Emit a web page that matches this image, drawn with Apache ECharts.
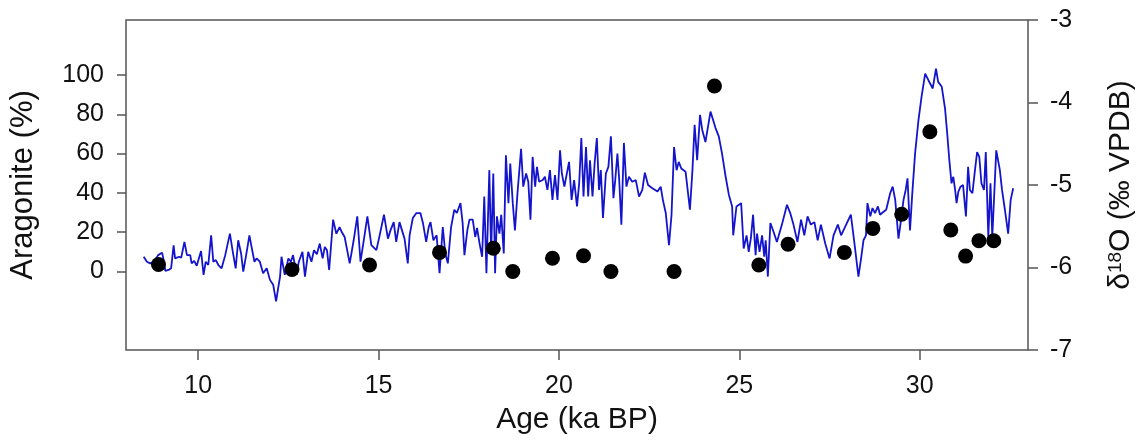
<!DOCTYPE html>
<html>
<head>
<meta charset="utf-8">
<script src="https://cdn.jsdelivr.net/npm/echarts@6/dist/echarts.min.js"></script>
<style>
html,body{margin:0;padding:0;background:#fff;}
#chart{width:1144px;height:446px;}
</style>
</head>
<body>
<div id="chart"></div>
<script>
// Age (ka BP) for the δ18O record
const lineAge = [
8.49,8.58,8.67,8.78,8.89,9.00,9.03,9.09,9.18,9.25,
9.32,9.36,9.47,9.53,9.62,9.69,9.78,9.82,9.89,9.96,
10.08,10.15,10.21,10.28,10.36,10.42,10.49,10.56,10.65,10.75,
10.88,10.96,11.04,11.11,11.19,11.25,11.33,11.42,11.48,11.56,
11.62,11.71,11.80,11.90,11.99,12.08,12.16,12.21,12.27,12.31,
12.40,12.50,12.57,12.63,12.73,12.79,12.89,12.96,13.05,13.14,
13.21,13.29,13.37,13.45,13.51,13.57,13.63,13.74,13.83,13.92,
13.98,14.06,14.20,14.31,14.41,14.50,14.59,14.69,14.80,14.94,
15.03,15.15,15.26,15.33,15.42,15.49,15.58,15.72,15.81,15.86,
15.95,16.05,16.16,16.23,16.32,16.39,16.44,16.52,16.61,16.69,
16.78,16.85,16.92,17.01,17.10,17.17,17.27,17.33,17.38,17.46,
17.52,17.61,17.68,17.73,17.80,17.87,17.93,17.99,18.07,18.12,
18.18,18.23,18.28,18.35,18.40,18.47,18.53,18.60,18.65,18.72,
18.78,18.85,18.95,19.01,19.09,19.15,19.21,19.27,19.34,19.39,
19.45,19.55,19.61,19.68,19.75,19.82,19.89,19.96,20.03,20.08,
20.15,20.21,20.28,20.35,20.42,20.50,20.56,20.62,20.68,20.75,
20.81,20.86,20.93,20.99,21.05,21.11,21.16,21.22,21.30,21.37,
21.44,21.51,21.56,21.62,21.67,21.73,21.80,21.87,21.94,22.03,
22.13,22.22,22.31,22.38,22.47,22.59,22.73,22.82,22.88,22.96,
23.05,23.12,23.19,23.26,23.32,23.39,23.51,23.63,23.70,23.76,
23.83,23.91,23.97,24.06,24.20,24.34,24.43,24.52,24.62,24.71,
24.80,24.83,24.92,25.05,25.12,25.20,25.26,25.32,25.38,25.45,
25.49,25.56,25.63,25.69,25.73,25.79,25.86,25.95,26.04,26.18,
26.32,26.41,26.50,26.61,26.71,26.80,26.89,26.98,27.08,27.17,
27.26,27.38,27.50,27.61,27.73,27.82,27.96,28.09,28.18,28.30,
28.38,28.44,28.51,28.55,28.63,28.69,28.76,28.84,28.90,28.98,
29.07,29.18,29.25,29.32,29.41,29.47,29.55,29.61,29.66,29.73,
29.79,29.87,29.96,30.05,30.15,30.24,30.36,30.45,30.51,30.61,
30.70,30.76,30.82,30.88,30.93,30.98,31.02,31.07,31.13,31.20,
31.28,31.34,31.39,31.46,31.53,31.59,31.65,31.71,31.78,31.83,
31.90,31.96,32.01,32.12,32.22,32.28,32.36,32.45,32.52,32.59
];
// δ18O (‰ VPDB)
const lineD18O = [
-5.87,-5.93,-5.95,-5.93,-5.85,-5.82,-5.88,-6.04,-6.03,-6.01,
-5.73,-5.89,-5.87,-5.88,-5.69,-5.85,-5.85,-5.95,-5.92,-5.98,
-5.80,-6.09,-5.93,-5.97,-5.61,-5.93,-5.91,-5.97,-6.01,-5.85,
-5.59,-5.81,-6.01,-5.67,-5.83,-6.05,-5.85,-5.61,-5.75,-5.93,
-5.89,-5.93,-6.07,-6.01,-6.15,-6.21,-6.41,-6.27,-6.11,-5.87,
-6.09,-5.89,-5.93,-5.85,-6.09,-5.93,-5.81,-6.11,-5.81,-5.93,
-5.79,-5.84,-5.71,-5.89,-5.75,-5.79,-6.03,-5.42,-5.59,-5.51,
-5.57,-5.63,-5.95,-5.67,-5.38,-5.93,-5.67,-5.38,-5.73,-5.79,
-5.61,-5.36,-5.65,-5.55,-5.45,-5.69,-5.45,-5.65,-5.95,-5.61,
-5.40,-5.34,-5.34,-5.46,-5.69,-5.51,-5.45,-5.67,-5.61,-6.07,
-5.51,-5.83,-5.95,-5.51,-5.30,-5.34,-5.22,-5.46,-5.85,-5.55,
-5.42,-5.42,-5.63,-5.52,-5.71,-5.87,-5.14,-6.07,-4.82,-5.83,
-4.86,-6.07,-5.38,-5.59,-5.36,-5.83,-4.64,-5.22,-4.74,-5.22,
-5.55,-5.10,-4.56,-5.02,-4.86,-4.96,-5.42,-4.66,-5.02,-4.78,
-4.96,-4.94,-4.90,-5.06,-4.82,-5.18,-4.88,-5.18,-4.58,-4.86,
-5.02,-4.88,-4.72,-5.18,-4.94,-5.26,-4.98,-4.43,-5.14,-4.54,
-5.14,-4.70,-5.14,-4.73,-4.43,-5.06,-4.82,-5.40,-4.86,-4.78,
-4.41,-5.16,-4.94,-4.62,-4.94,-5.48,-4.49,-5.02,-4.90,-4.96,
-4.94,-5.14,-5.06,-4.85,-5.00,-5.04,-5.08,-5.02,-5.18,-5.34,
-5.73,-5.36,-4.54,-4.82,-4.72,-4.80,-4.84,-5.30,-4.82,-4.27,
-4.70,-4.15,-4.33,-4.48,-4.11,-4.31,-4.41,-4.62,-4.90,-5.12,
-5.26,-5.61,-5.26,-5.22,-5.77,-5.61,-5.81,-5.64,-5.36,-5.85,
-5.59,-5.81,-5.61,-5.87,-5.67,-6.11,-5.46,-5.57,-5.69,-5.48,
-5.24,-5.34,-5.48,-5.69,-5.42,-5.61,-5.38,-5.48,-5.45,-5.67,
-5.48,-5.71,-5.89,-5.61,-5.48,-5.61,-5.48,-5.36,-5.67,-6.11,
-5.87,-5.67,-5.61,-5.22,-5.38,-5.28,-5.34,-5.26,-5.36,-5.33,
-5.30,-5.10,-5.02,-5.18,-5.65,-5.46,-5.18,-5.06,-4.92,-5.55,
-5.12,-4.62,-4.23,-3.93,-3.65,-3.73,-3.83,-3.59,-3.75,-3.81,
-4.07,-4.37,-4.70,-4.98,-4.90,-5.06,-5.22,-5.08,-5.02,-5.00,
-5.38,-4.78,-5.06,-5.10,-4.82,-4.60,-4.66,-4.98,-5.06,-4.60,
-5.63,-4.98,-5.63,-4.58,-4.82,-5.06,-5.30,-5.59,-5.18,-5.04
];
// Aragonite (%) samples
const dotAge = [8.9,12.6,14.75,16.69,18.18,18.72,19.82,20.68,21.44,23.19,24.31,25.54,26.35,27.91,28.70,29.50,30.28,30.86,31.27,31.64,32.05];
const dotArag = [3.5,1,3.3,9.7,11.8,0,6.7,8.0,0,0,94.4,3.3,13.8,9.7,21.9,29.1,71.1,21.1,7.8,15.6,15.6];
// tick labels
const xTicks = [10,15,20,25,30];
const leftTicks = [0,20,40,60,80,100];

const FONT = 'Liberation Sans, Arial, sans-serif';
const chart = echarts.init(document.getElementById('chart'), null, {renderer:'canvas'});
const frame = '#555';
chart.setOption({
  animation:false,
  backgroundColor:'#fff',
  grid:{left:126,right:115,top:20,bottom:96,show:true,borderColor:frame,borderWidth:1.5,backgroundColor:'transparent'},
  xAxis:{
    type:'value',min:8,max:33,
    name:'Age (ka BP)',nameLocation:'middle',nameGap:55,
    nameTextStyle:{fontFamily:FONT,fontSize:30,color:'#111'},
    axisLine:{show:false,onZero:false},
    splitLine:{show:false},
    axisTick:{show:true,inside:false,length:10,customValues:xTicks,lineStyle:{color:frame,width:1.5}},
    axisLabel:{customValues:xTicks,margin:24,fontFamily:FONT,fontSize:25,color:'#111'}
  },
  yAxis:[{
    type:'value',min:-40,max:128,position:'left',
    name:'Aragonite (%)',nameLocation:'middle',nameGap:87,
    nameTextStyle:{fontFamily:FONT,fontSize:31,color:'#111'},
    axisLine:{show:false,onZero:false},
    splitLine:{show:false},
    axisTick:{show:true,length:9,customValues:leftTicks,lineStyle:{color:frame,width:1.5}},
    axisLabel:{customValues:leftTicks,margin:22,fontFamily:FONT,fontSize:25,color:'#111'}
  },{
    type:'value',min:-7,max:-3,interval:1,position:'right',
    name:'{n|δ}{s|18}{n|O (‰ VPDB)}',nameLocation:'middle',nameGap:78,
    nameTextStyle:{fontFamily:FONT,fontSize:30,color:'#111',
      rich:{n:{fontFamily:FONT,fontSize:30,color:'#111'},s:{fontFamily:FONT,fontSize:19,color:'#111',verticalAlign:'top',padding:[0,0,10,0]}}},
    axisLine:{show:false,onZero:false},
    splitLine:{show:false},
    axisTick:{show:true,length:10,lineStyle:{color:frame,width:1.5}},
    axisLabel:{margin:22,fontFamily:FONT,fontSize:25,color:'#111'}
  }],
  series:[{
    type:'line',yAxisIndex:1,
    data:lineAge.map((a,i)=>[a,lineD18O[i]]),
    showSymbol:false,symbol:'none',
    lineStyle:{color:'#1414cc',width:1.8},
    z:2
  },{
    type:'scatter',yAxisIndex:0,
    data:dotAge.map((a,i)=>[a,dotArag[i]]),
    symbol:'circle',symbolSize:15,
    itemStyle:{color:'#000',opacity:1},
    z:3
  }]
});
</script>
</body>
</html>
